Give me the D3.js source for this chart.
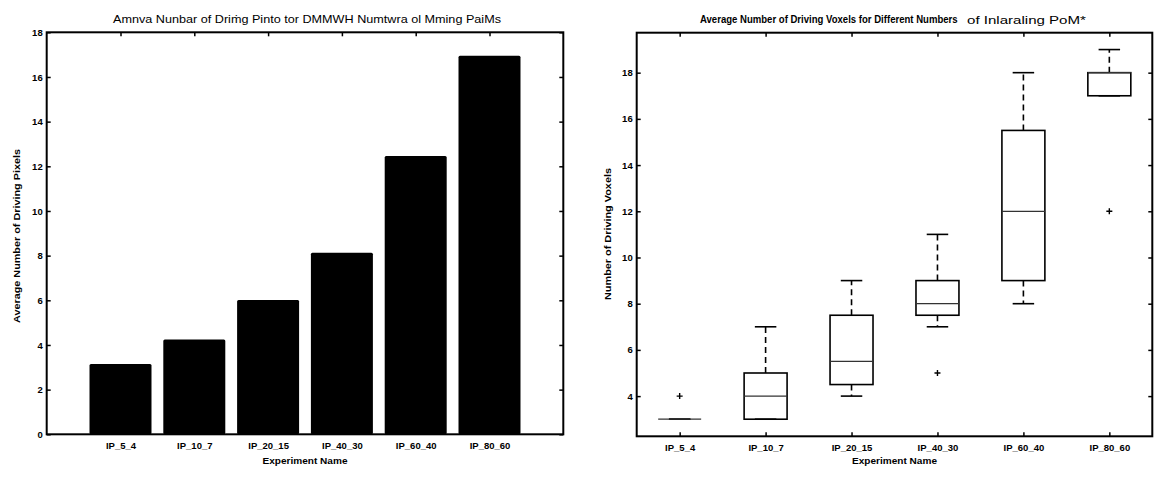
<!DOCTYPE html>
<html>
<head>
<meta charset="utf-8">
<script src="https://cdn.jsdelivr.net/npm/d3@7"></script>
<style>
  html, body { margin: 0; padding: 0; background: #fff; }
  svg { display: block; }
  text { font-family: "Liberation Sans", Arial, sans-serif; fill: #000; }
</style>
</head>
<body>
<svg id="chart" width="1161" height="479"></svg>
<script>
// ---------- data ----------
const categories = ["IP_5_4", "IP_10_7", "IP_20_15", "IP_40_30", "IP_60_40", "IP_80_60"];
const barValues = [3.15, 4.25, 6.01, 8.13, 12.46, 16.95];
const leftYTicks = [0, 2, 4, 6, 8, 10, 12, 14, 16, 18];

const boxLow    = [3, 3, 4,   7,   8,    17];
const boxQ1     = [3, 3, 4.5, 7.5, 9,    17];
const boxMedian = [3, 4, 5.5, 8,   12,   18];
const boxQ3     = [3, 5, 7.5, 9,   15.5, 18];
const boxHigh   = [3, 7, 9,   11,  18,   19];
const boxOutliers = [[4], [], [], [5], [], [12]];
const rightYTicks = [4, 6, 8, 10, 12, 14, 16, 18];

const leftTitle = "Amnva Nunbar of Driṁg Pinto tor DMMWH Numtwra ol Mming PaiMs";
const rightTitleBold = "Average Number of Driving Voxels for Different Numbers";
const rightTitleRest = "of Inlaraling PoM*";
const leftYLabel = "Average Number of Driving Pixels";
const rightYLabel = "Number of Driving Voxels";
const xLabel = "Experiment Name";

// ---------- setup ----------
const svg = d3.select("#chart");
const tickFont = "bold 9.5px 'Liberation Sans', Arial, sans-serif";

// text squeezed horizontally to a target width via a scale transform
function fitText(parent, x, y, str, font, width, anchor) {
  const g = parent.append("g");
  const t = g.append("text").style("font", font).text(str);
  const w = t.node().getComputedTextLength();
  const s = width / w;
  const left = anchor === "middle" ? x - width / 2 : x;
  g.attr("transform", `translate(${left},${y}) scale(${s},1)`);
  return g;
}

function frameAxes(g, x, y, xTickVals, yTickVals, xFmt) {
  const [x0, x1] = x.range();
  const [y0, y1] = y.range();
  g.append("g").attr("transform", `translate(0,${y0})`)
    .call(d3.axisBottom(x).tickValues(xTickVals).tickFormat(xFmt).tickSizeInner(-4).tickSizeOuter(0).tickPadding(8));
  g.append("g").attr("transform", `translate(0,${y1})`)
    .call(d3.axisTop(x).tickValues(xTickVals).tickFormat("").tickSizeInner(-4).tickSizeOuter(0));
  g.append("g").attr("transform", `translate(${x0},0)`)
    .call(d3.axisLeft(y).tickValues(yTickVals).tickFormat(d3.format("d")).tickSizeInner(-4).tickSizeOuter(0).tickPadding(4));
  g.append("g").attr("transform", `translate(${x1},0)`)
    .call(d3.axisRight(y).tickValues(yTickVals).tickFormat("").tickSizeInner(-4).tickSizeOuter(0));
  g.selectAll(".domain").remove();
  g.selectAll(".tick line").attr("stroke", "#000").attr("stroke-width", 1.5);
  g.selectAll(".tick text").style("font", tickFont).attr("fill", "#000");
  g.append("rect").attr("x", x0).attr("y", y1).attr("width", x1 - x0).attr("height", y0 - y1)
    .attr("fill", "none").attr("stroke", "#000").attr("stroke-width", 2);
}

// ---------- left: bar chart ----------
const gL = svg.append("g");
const xL = d3.scaleLinear().domain([0, 7]).range([46.7, 563.3]);
const yL = d3.scaleLinear().domain([0, 18]).range([434.3, 32.3]);
const barHalf = 0.42;

gL.selectAll("rect.bar").data(barValues).join("rect")
  .attr("class", "bar")
  .attr("x", (d, i) => xL(i + 1 - barHalf))
  .attr("width", (d, i) => xL(i + 1 + barHalf) - xL(i + 1 - barHalf))
  .attr("y", d => yL(d))
  .attr("height", d => yL(0) - yL(d))
  .attr("rx", 1.5)
  .attr("fill", "#000");

frameAxes(gL, xL, yL, d3.range(1, 7), leftYTicks, (d) => categories[d - 1]);

gL.append("text").attr("x", 307).attr("y", 23).attr("text-anchor", "middle")
  .attr("textLength", 388).attr("lengthAdjust", "spacingAndGlyphs")
  .style("font-size", "11.5px").text(leftTitle);
gL.append("text").attr("transform", `translate(20,236) rotate(-90)`).attr("text-anchor", "middle")
  .attr("textLength", 174).attr("lengthAdjust", "spacingAndGlyphs")
  .style("font", "bold 9.5px 'Liberation Sans', Arial, sans-serif").text(leftYLabel);
gL.append("text").attr("x", xL(3.5)).attr("y", 464).attr("text-anchor", "middle")
  .attr("textLength", 85).attr("lengthAdjust", "spacingAndGlyphs")
  .style("font", "bold 9.5px 'Liberation Sans', Arial, sans-serif").text(xLabel);

// ---------- right: box plot ----------
const gR = svg.append("g");
const xR = d3.scaleLinear().domain([0.5, 6.5]).range([636.7, 1152.3]);
const yR = d3.scaleLinear().domain([2.26, 19.73]).range([436.3, 32.7]);
const boxHalf = 0.25, capHalf = 0.125;

categories.forEach((c, i) => {
  const cx = xR(i + 1);
  const g = gR.append("g");
  if (boxHigh[i] > boxQ3[i]) {
    g.append("line").attr("x1", cx).attr("x2", cx).attr("y1", yR(boxQ3[i])).attr("y2", yR(boxHigh[i]))
      .attr("stroke", "#000").attr("stroke-width", 1.6).attr("stroke-dasharray", "6,4");
  }
  if (boxLow[i] < boxQ1[i]) {
    g.append("line").attr("x1", cx).attr("x2", cx).attr("y1", yR(boxQ1[i])).attr("y2", yR(boxLow[i]))
      .attr("stroke", "#000").attr("stroke-width", 1.6).attr("stroke-dasharray", "6,4");
  }
  [boxHigh[i], boxLow[i]].forEach(v => {
    g.append("line").attr("x1", xR(i + 1 - capHalf)).attr("x2", xR(i + 1 + capHalf))
      .attr("y1", yR(v)).attr("y2", yR(v)).attr("stroke", "#000").attr("stroke-width", 1.6);
  });
  g.append("rect").attr("x", xR(i + 1 - boxHalf)).attr("width", xR(i + 1 + boxHalf) - xR(i + 1 - boxHalf))
    .attr("y", yR(boxQ3[i])).attr("height", yR(boxQ1[i]) - yR(boxQ3[i]))
    .attr("fill", "none").attr("stroke", "#000").attr("stroke-width", 1.6);
  g.append("line").attr("x1", xR(i + 1 - boxHalf)).attr("x2", xR(i + 1 + boxHalf))
    .attr("y1", yR(boxMedian[i])).attr("y2", yR(boxMedian[i]))
    .attr("stroke", "#333").attr("stroke-width", 1.2);
  boxOutliers[i].forEach(v => {
    const oy = yR(v);
    g.append("path").attr("d", `M${cx - 3},${oy}H${cx + 3}M${cx},${oy - 3}V${oy + 3}`)
      .attr("stroke", "#000").attr("stroke-width", 1.4).attr("fill", "none");
  });
});

frameAxes(gR, xR, yR, d3.range(1, 7), rightYTicks, (d) => categories[d - 1]);

fitText(gR, 700, 23, rightTitleBold, "bold 10.5px 'Liberation Sans', Arial, sans-serif", 258, "start");
fitText(gR, 967, 24, rightTitleRest, "11px 'Liberation Sans', Arial, sans-serif", 119, "start");
gR.append("text").attr("transform", `translate(611,234) rotate(-90)`).attr("text-anchor", "middle")
  .attr("textLength", 132).attr("lengthAdjust", "spacingAndGlyphs")
  .style("font", "bold 9.5px 'Liberation Sans', Arial, sans-serif").text(rightYLabel);
gR.append("text").attr("x", xR(3.5)).attr("y", 464).attr("text-anchor", "middle")
  .attr("textLength", 85).attr("lengthAdjust", "spacingAndGlyphs")
  .style("font", "bold 9.5px 'Liberation Sans', Arial, sans-serif").text(xLabel);
</script>
</body>
</html>
